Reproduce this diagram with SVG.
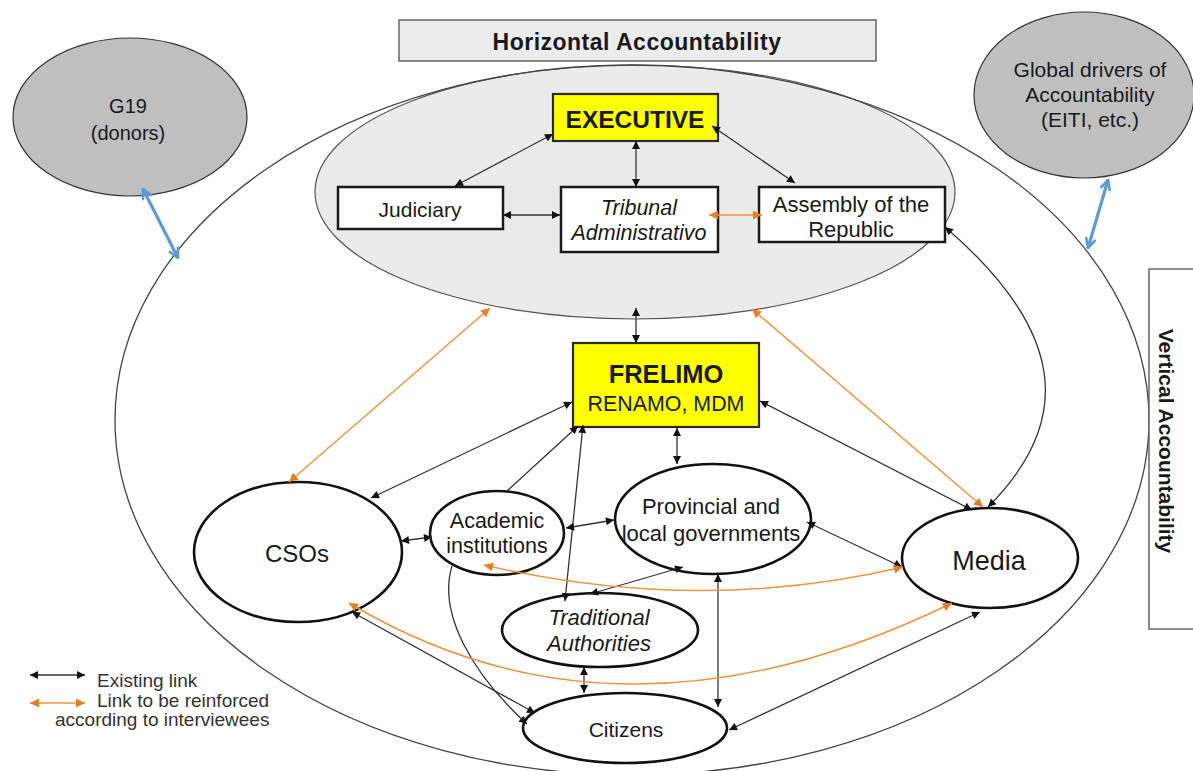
<svg xmlns="http://www.w3.org/2000/svg" width="1193" height="771" viewBox="0 0 1193 771">
  <style>
    text { font-family: "Liberation Sans", Arial, sans-serif; fill: #1a1a1a; text-anchor: middle; }
    .bold { font-weight: bold; }
    .it { font-style: italic; }
    .box { fill: #ffffff; stroke: #1a1a1a; stroke-width: 2.5; }
    .hl { fill: #ffff00; stroke: #2a2a2a; stroke-width: 2.2; }
    .node { fill: #ffffff; stroke: #111111; stroke-width: 2.6; }
    .ext { fill: #bfbfbf; stroke: #333333; stroke-width: 1.2; }
    .link { fill: none; stroke: #333333; stroke-width: 1.3; }
    .link2 { marker-start: url(#ah); marker-end: url(#ah); }
    .link1 { marker-end: url(#ah); }
    .orange { fill: none; stroke: #ee9440; stroke-width: 1.5; marker-start: url(#ahO); marker-end: url(#ahO); }
    .blue { fill: none; stroke: #5b9bd5; stroke-width: 3.2; marker-start: url(#ahB); marker-end: url(#ahB); }
    .legend { text-anchor: start; font-size: 19px; fill: #333333; }
  </style>
  <defs>
    <marker id="ah" viewBox="0 0 10 10" refX="10" refY="5" markerWidth="9" markerHeight="8" markerUnits="userSpaceOnUse" orient="auto-start-reverse">
      <path d="M0,0 L10,5 L0,10 z" fill="#111111"/>
    </marker>
    <marker id="ahO" viewBox="0 0 10 10" refX="10" refY="5" markerWidth="10" markerHeight="9" markerUnits="userSpaceOnUse" orient="auto-start-reverse">
      <path d="M0,0 L10,5 L0,10 z" fill="#e67e22"/>
    </marker>
    <marker id="ahB" viewBox="0 0 12 12" refX="11" refY="6" markerWidth="12" markerHeight="12" markerUnits="userSpaceOnUse" orient="auto-start-reverse">
      <path d="M1,1 L11,6 L1,11" fill="none" stroke="#5b9bd5" stroke-width="2.6" stroke-linejoin="round"/>
    </marker>
  </defs>

  <rect width="1193" height="771" fill="#ffffff"/>

  <!-- framing: horizontal accountability area and the wider vertical field -->
  <g id="frame">
    <ellipse id="horizontal-area" cx="635" cy="192" rx="320" ry="127" fill="#ebebeb" stroke="#555555" stroke-width="1.2"/>
    <ellipse id="vertical-field" cx="632" cy="420" rx="517" ry="355" fill="none" stroke="#444444" stroke-width="1.3"/>
  </g>

  <g id="horizontal-title">
    <rect x="399" y="20" width="477" height="41" fill="#ececec" stroke="#666666" stroke-width="1.5"/>
    <text x="637" y="50" class="bold" font-size="23" letter-spacing="0.5">Horizontal Accountability</text>
  </g>

  <g id="vertical-title">
    <rect x="1149" y="269" width="60" height="360" fill="#ffffff" stroke="#666666" stroke-width="1.5"/>
    <text transform="translate(1159,441) rotate(90)" x="0" y="0" class="bold" font-size="21">Vertical Accountability</text>
  </g>

  <g id="g19">
    <ellipse class="ext" cx="130" cy="117" rx="117" ry="79"/>
    <text x="128" y="113" font-size="20">G19</text>
    <text x="128" y="140" font-size="20">(donors)</text>
  </g>

  <g id="global-drivers">
    <ellipse class="ext" cx="1084" cy="95" rx="110" ry="83"/>
    <text x="1090" y="77" font-size="21">Global drivers of</text>
    <text x="1090" y="102" font-size="21">Accountability</text>
    <text x="1090" y="127" font-size="21">(EITI, etc.)</text>
  </g>

  <g id="executive">
    <rect class="hl" x="553" y="94" width="165" height="47"/>
    <text x="635" y="128" class="bold" font-size="24.5">EXECUTIVE</text>
  </g>

  <g id="judiciary">
    <rect class="box" x="338" y="187" width="165" height="42"/>
    <text x="420" y="217" font-size="21">Judiciary</text>
  </g>

  <g id="tribunal">
    <rect class="box" x="561" y="187" width="157" height="65"/>
    <text x="639" y="215" class="it" font-size="21.5">Tribunal</text>
    <text x="639" y="240" class="it" font-size="21.5">Administrativo</text>
  </g>

  <g id="assembly">
    <rect class="box" x="759" y="187" width="186" height="55"/>
    <text x="851" y="212" font-size="22">Assembly of the</text>
    <text x="851" y="237" font-size="22">Republic</text>
  </g>

  <g id="frelimo">
    <rect class="hl" x="573" y="343" width="186" height="84"/>
    <text x="666" y="383" class="bold" font-size="25.5">FRELIMO</text>
    <text x="666" y="411" font-size="21.4">RENAMO, MDM</text>
  </g>

  <g id="provincial">
    <ellipse class="node" cx="713" cy="519" rx="98" ry="55"/>
    <text x="711" y="514" font-size="22">Provincial and</text>
    <text x="711" y="541" font-size="22">local governments</text>
  </g>

  <g id="academic">
    <ellipse class="node" cx="497" cy="533" rx="67" ry="42"/>
    <text x="497" y="528" font-size="21.5">Academic</text>
    <text x="497" y="553" font-size="21.5">institutions</text>
  </g>

  <g id="csos">
    <ellipse class="node" cx="298" cy="552" rx="104" ry="70"/>
    <text x="297" y="562" font-size="24">CSOs</text>
  </g>

  <g id="media">
    <ellipse class="node" cx="990" cy="558" rx="88" ry="50"/>
    <text x="989" y="570" font-size="27">Media</text>
  </g>

  <g id="traditional">
    <ellipse class="node" cx="600" cy="630" rx="98" ry="37"/>
    <text x="599" y="625" class="it" font-size="22">Traditional</text>
    <text x="599" y="651" class="it" font-size="22">Authorities</text>
  </g>

  <g id="citizens">
    <ellipse class="node" cx="625" cy="728" rx="102" ry="35"/>
    <text x="626" y="737" font-size="21">Citizens</text>
  </g>

  <!-- links between actors -->
  <g id="connectors">
    <!-- existing links -->
    <path class="link link2" d="M553,134 L455,186"/>
    <path class="link link2" d="M636,141 L636,187"/>
    <path class="link link2" d="M712,126 L795,183"/>
    <path class="link link2" d="M503,215 L560,215"/>
    <path class="link link2" d="M636,308 L636,343"/>
    <path class="link link2" d="M945,227 C1065,330 1075,420 988,507"/>
    <path class="link link2" d="M760,401 L972,510"/>
    <path class="link link2" d="M572,402 L371,498"/>
    <path class="link link1" d="M507,491 L578,426"/>
    <path class="link link2" d="M583,425 L565,601"/>
    <path class="link link2" d="M566,528 L614,520"/>
    <path class="link link2" d="M677,428 L677,464"/>
    <path class="link link2" d="M401,541 L432,537"/>
    <path class="link link2" d="M807,522 L902,567"/>
    <path class="link link2" d="M683,567 L590,594"/>
    <path class="link link2" d="M718,574 L718,707"/>
    <path class="link link2" d="M584,667 L584,693"/>
    <path class="link link2" d="M352,612 L535,713"/>
    <path class="link link1" d="M452,566 C438,612 470,672 527,724"/>
    <path class="link link2" d="M729,730 L980,612"/>

    <!-- links to be reinforced -->
    <path class="orange" d="M709,215 L762,215"/>
    <path class="orange" d="M490,308 L289,482"/>
    <path class="orange" d="M752,309 L983,507"/>
    <path class="orange" d="M484,565 Q700,615 903,567"/>
    <path class="orange" d="M349,603 Q620,765 952,603"/>

    <!-- external drivers -->
    <path class="blue" d="M143,189 L178,258"/>
    <path class="blue" d="M1108,180 L1088,248"/>
  </g>

  <g id="legend">
    <path class="link link2" d="M30,675 L85,675" stroke="#111111"/>
    <path class="orange" d="M30,703 L85,703"/>
    <text class="legend" x="97" y="687">Existing link</text>
    <text class="legend" x="97" y="707">Link to be reinforced</text>
    <text class="legend" x="55" y="726">according to interviewees</text>
  </g>
</svg>
